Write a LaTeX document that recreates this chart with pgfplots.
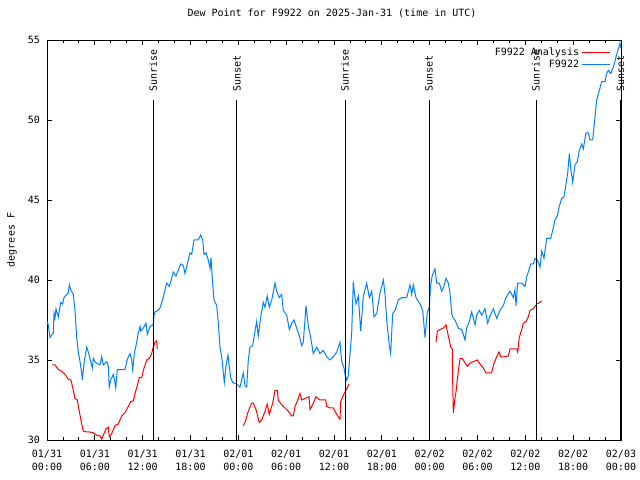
\documentclass[border=0pt]{standalone}
\usepackage{fontspec}
\setmainfont{DejaVu Sans Mono}
\usepackage{pgfplots}
\pgfplotsset{compat=1.18}
\definecolor{anred}{RGB}{255,0,0}
\definecolor{obsblue}{RGB}{0,128,255}
\begin{document}
\fontsize{10bp}{12.5bp}\selectfont
\begin{tikzpicture}
\path[use as bounding box] (-47bp,-40bp) rectangle (593bp,440bp);
\begin{axis}[
  at={(0,0)}, anchor=south west,
  scale only axis, width=574bp, height=400bp,
  xmin=0, xmax=72, ymin=30, ymax=55,
  clip=false,
  axis line style={line width=0.8bp},
  every tick/.style={black, line width=0.8bp},
  tick align=inside,
  major tick length=5bp, minor tick length=3bp,
  xtick={0,6,...,72},
  minor x tick num=2,
  xticklabels={{01/31\\00:00},{01/31\\06:00},{01/31\\12:00},{01/31\\18:00},{02/01\\00:00},{02/01\\06:00},{02/01\\12:00},{02/01\\18:00},{02/02\\00:00},{02/02\\06:00},{02/02\\12:00},{02/02\\18:00},{02/03\\00:00}},
  xticklabel style={align=center, anchor=north, inner sep=0pt, yshift=-10bp, font=\fontsize{10bp}{12.5bp}\selectfont},
  ytick={30,35,40,45,50,55},
  yticklabel style={anchor=east, inner sep=0pt, xshift=-7bp, font=\fontsize{10bp}{12bp}\selectfont},
  /pgf/number format/assume math mode=true,
  ylabel={degrees F},
  ylabel style={at={(axis description cs:-0.061,0.5)}, anchor=center, font=\fontsize{10bp}{12bp}\selectfont},
  title={Dew Point for F9922 on 2025-Jan-31 (time in UTC)},
  title style={at={(axis description cs:0.5,1)}, anchor=center, yshift=21bp, xshift=-2bp, font=\fontsize{10bp}{12bp}\selectfont},
  unbounded coords=jump,
  legend style={at={(rel axis cs:0.983,0.99)}, anchor=north east, draw=none, fill=none, font=\fontsize{10bp}{12bp}\selectfont, row sep=-3bp, inner sep=1bp, nodes={text height=8bp, text depth=3bp}},
  legend cell align=right,
  legend plot pos=right,
  legend image code/.code={\draw[#1] (4bp,0bp) -- (32bp,0bp);},
]
\addplot[anred, line width=1bp] coordinates {
(0.66,34.7) (1.0,34.7) (1.42,34.4) (1.84,34.3) (2.26,34.1) (2.67,33.8) (3.01,33.75) (3.30,33.1) (3.51,32.6) (3.80,32.5)
(4.05,31.8) (4.35,31.0) (4.55,30.56) (4.98,30.5) (5.31,30.5) (5.81,30.45) (6.23,30.3) (6.65,30.25) (6.86,30.05) (7.06,30.3)
(7.40,30.7) (7.69,30.8) (7.81,30.2) (8.12,30.4) (8.53,30.9) (8.94,31.0) (9.37,31.5) (9.78,31.7) (10.20,32.1) (10.50,32.4)
(10.83,32.45) (11.04,32.9) (11.33,33.4) (11.58,33.9) (11.88,33.9) (12.17,34.5) (12.51,35.0) (12.83,35.1) (13.13,35.4) (13.33,35.8)
(13.55,36.1) (13.76,36.2) (13.84,35.7)
(18,nan)
(24.62,30.9) (24.84,31.1) (25.25,31.8) (25.68,32.3) (25.88,32.3) (26.22,31.9) (26.63,31.1) (26.93,31.25) (27.35,31.8) (27.63,32.25)
(27.88,31.6) (28.06,31.9) (28.31,32.3) (28.60,33.1) (28.89,33.1) (29.01,32.5) (29.44,32.2) (29.85,32.0) (30.27,31.8) (30.70,31.5)
(30.90,31.5) (31.11,32.1) (31.45,32.5) (31.74,32.9) (31.95,32.5) (32.36,32.6) (32.87,32.7) (32.99,31.9) (33.40,32.3) (33.74,32.7)
(34.24,32.5) (34.96,32.5) (35.09,32.1) (35.50,32.0) (35.91,32.0) (36.34,31.6) (36.75,31.3) (36.84,32.4) (37.09,32.7) (37.38,33.0)
(37.59,33.2) (37.79,33.4) (37.92,33.5)
(43,nan)
(48.80,36.1) (48.96,36.8) (49.30,36.9) (49.71,37.0) (50.05,37.2) (50.34,36.5) (50.64,35.8) (50.84,35.7) (50.89,33.6) (50.97,31.7)
(51.14,32.5) (51.30,33.0) (51.59,34.3) (51.81,35.1) (52.02,35.1) (52.22,35.0) (52.72,34.6) (53.06,34.8) (53.48,34.9) (53.98,35.0)
(54.31,34.75) (54.73,34.5) (55.07,34.2) (55.36,34.2) (55.78,34.2) (56.07,34.8) (56.41,35.2) (56.70,35.5) (56.91,35.2) (57.45,35.2)
(57.87,35.25) (58.08,35.7) (58.58,35.7) (58.92,35.7) (59.04,35.5) (59.24,36.4) (59.55,36.9) (59.75,37.3) (60.09,37.4) (60.37,37.7)
(60.59,38.1) (61.00,38.2) (61.43,38.5) (61.84,38.6) (62.05,38.7)
};
\addlegendentry{F9922 Analysis}
\addplot[obsblue, line width=1bp] coordinates {
(0.0,37.4) (0.16,37.2) (0.38,36.4) (0.79,36.7) (0.88,37.9) (1.0,37.6) (1.13,38.2) (1.42,37.7) (1.72,38.6) (1.97,38.5)
(2.13,38.9) (2.67,39.2) (2.80,39.7) (2.97,39.4) (3.30,39.1) (3.51,38.1) (3.73,36.4) (3.93,35.5) (4.14,34.9) (4.35,34.2)
(4.43,33.75) (4.68,34.9) (4.98,35.8) (5.18,35.5) (5.39,35.1) (5.68,34.5) (5.81,35.1) (6.02,34.9) (6.23,34.8) (6.65,34.7)
(6.86,35.2) (7.06,34.7) (7.49,34.9) (7.69,34.6) (7.81,33.3) (7.99,33.75) (8.32,34.1) (8.49,33.7) (8.62,33.25) (8.82,34.4)
(9.16,34.4) (9.78,34.4) (10.0,34.9) (10.2,35.2) (10.41,35.4) (10.62,35.0) (10.75,34.4) (10.95,35.4) (11.25,36.1) (11.45,36.7)
(11.67,37.1) (11.75,36.8) (12.08,37.0) (12.42,37.3) (12.58,36.6) (12.92,37.1) (13.33,37.2) (13.42,37.8) (13.55,38.0) (13.96,38.1)
(14.17,38.25) (14.39,38.6) (14.59,38.9) (14.80,39.4) (15.02,39.8) (15.34,39.6) (15.64,40.1) (15.84,40.5) (16.18,40.25) (16.47,40.6)
(16.77,41.0) (17.10,40.9) (17.31,40.4) (17.60,41.0) (17.94,41.7) (18.15,41.6) (18.44,42.5) (18.98,42.5) (19.28,42.8) (19.53,42.5)
(19.69,41.6) (19.94,41.7) (20.23,41.25) (20.45,40.7) (20.57,41.4) (20.79,39.7) (20.95,38.75) (21.29,38.4) (21.49,37.3) (21.70,35.8)
(21.91,35.2) (22.12,34.2) (22.24,33.6) (22.45,34.6) (22.70,35.3) (22.87,34.6) (23.04,33.9) (23.29,33.6) (23.80,33.5) (24.21,33.3)
(24.62,34.2) (24.84,33.4) (25.05,33.3) (25.25,35.0) (25.46,35.8) (25.80,35.9) (26.09,36.8) (26.30,37.4) (26.50,36.5) (26.81,37.7)
(27.13,38.6) (27.34,38.3) (27.63,39.0) (27.88,38.3) (28.19,38.75) (28.60,39.8) (28.81,39.3) (29.14,38.9) (29.44,39.1) (29.64,38.1)
(30.07,37.8) (30.40,36.9) (30.70,37.3) (30.98,37.5) (31.32,37.0) (31.65,36.5) (31.95,35.9) (32.15,36.1) (32.49,38.4) (32.78,37.1)
(33.08,36.4) (33.40,35.4) (33.83,35.8) (34.24,35.4) (34.66,35.6) (35.09,35.2) (35.50,35.0) (35.91,35.2) (36.34,35.5) (36.75,36.1)
(36.97,34.9) (37.26,34.5) (37.38,34.1) (37.59,33.75) (37.79,34.0) (38.01,35.4) (38.22,36.7) (38.42,39.9) (38.60,39.0) (38.76,38.5)
(39.05,39.0) (39.35,36.8) (39.68,39.0) (40.10,39.8) (40.43,38.9) (40.73,39.3) (41.02,37.7) (41.36,37.9) (41.77,39.2) (42.19,40.0)
(42.40,39.1) (42.61,37.5) (42.94,35.9) (43.11,35.4) (43.36,37.9) (43.65,38.1) (44.07,38.75) (44.49,38.9) (45.12,38.9) (45.53,39.7)
(45.75,39.1) (45.95,39.7) (46.29,38.9) (46.79,38.5) (47.13,38.1) (47.42,36.4) (47.71,38.0) (47.95,38.3) (48.13,39.7) (48.33,40.3)
(48.67,40.7) (48.88,39.8) (49.21,39.8) (49.51,39.3) (49.71,39.5) (50.05,40.1) (50.34,39.8) (50.55,39.2) (50.77,37.9) (50.97,37.6)
(51.18,37.5) (51.59,37.0) (52.02,36.9) (52.22,36.6) (52.43,36.25) (52.65,37.0) (52.97,37.4) (53.27,38.0) (53.69,37.2) (53.90,37.8)
(54.23,38.1) (54.53,37.8) (54.94,38.2) (55.28,37.3) (55.57,37.75) (55.98,38.2) (56.41,37.6) (56.82,38.1) (57.24,38.4) (57.58,38.9)
(58.08,39.3) (58.49,38.9) (58.70,39.4) (58.83,38.4) (59.04,39.8) (59.55,39.8) (59.96,39.6) (60.17,40.2) (60.37,40.5) (60.68,41.0)
(61.00,41.0) (61.21,41.35) (61.50,41.25) (61.84,40.8) (62.05,41.8) (62.34,41.35) (62.68,42.6) (63.18,42.6) (63.43,43.1) (63.72,43.75)
(64.01,44.0) (64.26,44.6) (64.56,45.1) (64.85,45.2) (65.10,46.0) (65.32,46.7) (65.52,47.9) (65.69,47.0) (65.94,46.1) (66.23,47.2)
(66.52,47.4) (66.77,48.1) (67.07,48.5) (67.27,48.2) (67.61,49.2) (67.90,49.2) (68.11,48.75) (68.45,48.75) (68.74,50.2) (68.95,51.25)
(69.37,52.0) (69.58,52.4) (69.99,52.4) (70.20,52.9) (70.41,53.1) (70.71,52.9) (71.04,53.3) (71.46,54.1) (71.75,54.6) (71.88,54.8)
(71.96,54.5)
};
\addlegendentry{F9922}
\foreach \xx/\lab in {13.3/Sunrise, 23.83/Sunset, 37.38/Sunrise, 47.92/Sunset, 61.34/Sunrise, 71.95/Sunset}{
  \edef\temp{\noexpand\draw[black, line width=1bp] (axis cs:\xx,30) -- (axis cs:\xx,51.25);
  \noexpand\node[rotate=90, anchor=west, inner sep=0pt, font=\noexpand\fontsize{10bp}{12bp}\noexpand\selectfont] at (axis cs:\xx,51.75) {\lab};}
  \temp
}
\end{axis}
\end{tikzpicture}
\end{document}
